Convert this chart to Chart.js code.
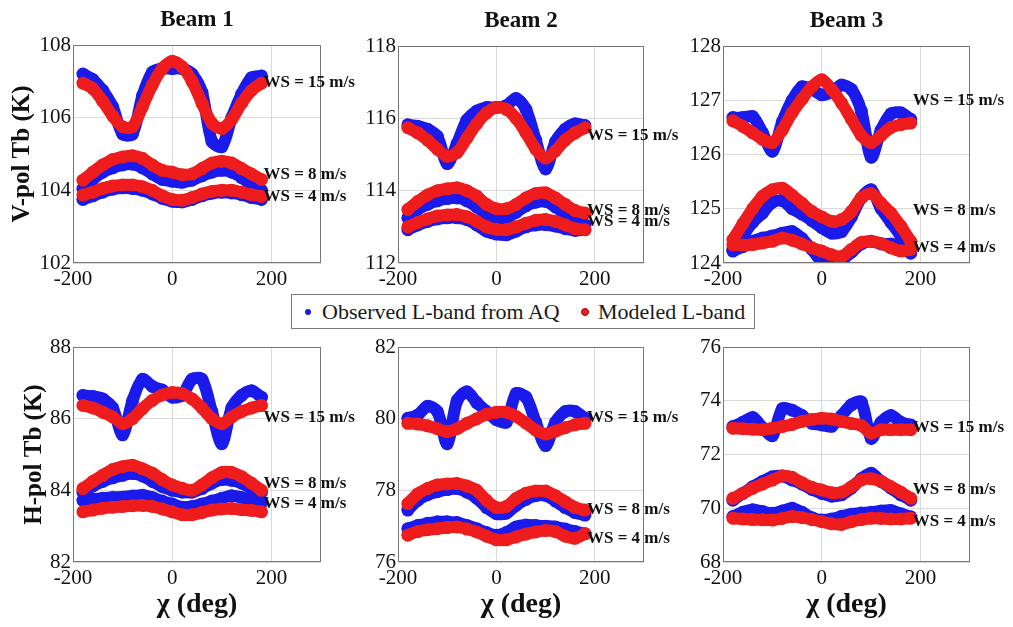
<!DOCTYPE html>
<html>
<head>
<meta charset="utf-8">
<script src="https://cdn.jsdelivr.net/npm/chart.js@4.4.0/dist/chart.umd.min.js"></script>
<style>
  body { margin: 0; background: #fff; width: 1013px; height: 627px; position: relative; overflow: hidden; font-family: "Liberation Serif", serif; }
  canvas { position: absolute; left: 0; top: 0; pointer-events: none; }
  #legend { position: absolute; left: 291px; top: 294px; width: 462px; height: 33px; border: 1px solid #7a7a7a; background: #fff; z-index: 5; color: #1a1a1a; font-size: 22px; }
  #legend span { position: absolute; top: 50%; transform: translateY(-50%); white-space: nowrap; }
  #legend .dot { width: 6px; height: 6px; border-radius: 50%; }
</style>
</head>
<body>
<div id="legend">
  <span class="dot" style="left:13px;background:#1a1aeb"></span>
  <span style="left:30px">Observed L-band from AQ</span>
  <span class="dot" style="left:289px;background:#ee1c1c;border:1px solid #a00"></span>
  <span style="left:306px">Modeled L-band</span>
</div>
<script>
// azimuth angle chi (deg)
const CHI = [-180, -160, -140, -120, -100, -80, -60, -40, -20, 0, 20, 40, 60, 80, 100, 120, 140, 160, 180];
const X_TICKS = [-200, 0, 200];
const BEAMS = ['Beam 1', 'Beam 2', 'Beam 3'];
const WS_LABELS = ['WS = 15 m/s', 'WS = 8 m/s', 'WS = 4 m/s'];

// V-pol, beam 1
const V1_YTICKS = [102, 104, 106, 108];
const V1_OBS_15 = [107.2, 107.05, 106.75, 106.3, 105.55, 105.55, 106.6, 107.25, 107.35, 107.35, 107.35, 107.2, 106.7, 105.35, 105.2, 106.0, 106.65, 107.1, 107.15];
const V1_MOD_15 = [106.95, 106.8, 106.45, 106.05, 105.75, 105.75, 106.3, 106.9, 107.35, 107.55, 107.4, 107.0, 106.4, 105.85, 105.7, 105.95, 106.4, 106.75, 106.95];
const V1_OBS_8 = [104.05, 104.3, 104.5, 104.62, 104.7, 104.72, 104.62, 104.45, 104.3, 104.25, 104.22, 104.28, 104.4, 104.5, 104.55, 104.5, 104.35, 104.15, 104.0];
const V1_MOD_8 = [104.28, 104.5, 104.7, 104.85, 104.92, 104.95, 104.88, 104.7, 104.55, 104.5, 104.43, 104.45, 104.6, 104.75, 104.8, 104.75, 104.6, 104.45, 104.3];
const V1_OBS_4 = [103.75, 103.85, 103.95, 104.03, 104.07, 104.05, 104.0, 103.9, 103.78, 103.7, 103.68, 103.75, 103.85, 103.92, 103.95, 103.93, 103.88, 103.8, 103.75];
const V1_MOD_4 = [103.87, 103.95, 104.05, 104.12, 104.15, 104.15, 104.1, 104.0, 103.85, 103.75, 103.73, 103.8, 103.9, 103.97, 104.0, 104.0, 103.95, 103.88, 103.83];
const V1_LABEL_AT = [106.96, 104.43, 103.82];

// V-pol, beam 2
const V2_YTICKS = [112, 114, 116, 118];
const V2_OBS_15 = [115.82, 115.78, 115.7, 115.5, 114.75, 115.3, 115.95, 116.2, 116.3, 116.3, 116.35, 116.55, 116.25, 115.4, 114.6, 115.35, 115.7, 115.85, 115.8];
const V2_MOD_15 = [115.74, 115.6, 115.4, 115.15, 114.95, 115.05, 115.45, 115.85, 116.15, 116.3, 116.25, 116.0, 115.6, 115.15, 114.9, 115.1, 115.4, 115.6, 115.74];
const V2_OBS_8 = [113.25, 113.48, 113.62, 113.72, 113.78, 113.8, 113.72, 113.55, 113.35, 113.25, 113.25, 113.4, 113.58, 113.68, 113.7, 113.55, 113.35, 113.15, 113.06];
const V2_MOD_8 = [113.48, 113.7, 113.88, 114.0, 114.05, 114.08, 114.0, 113.85, 113.62, 113.5, 113.5, 113.62, 113.8, 113.92, 113.94, 113.8, 113.62, 113.45, 113.38];
const V2_OBS_4 = [112.92, 113.05, 113.15, 113.22, 113.25, 113.25, 113.2, 113.05, 112.88, 112.8, 112.78, 112.88, 113.0, 113.05, 113.06, 113.02, 112.95, 112.9, 112.92];
const V2_MOD_4 = [113.0, 113.12, 113.22, 113.3, 113.33, 113.34, 113.28, 113.15, 113.0, 112.93, 112.92, 113.0, 113.1, 113.18, 113.2, 113.15, 113.05, 112.95, 112.92];
const V2_LABEL_AT = [115.53, 113.46, 113.15];

// V-pol, beam 3
const V3_YTICKS = [124, 125, 126, 127, 128];
const V3_OBS_15 = [126.68, 126.68, 126.7, 126.4, 126.06, 126.6, 127.0, 127.25, 127.2, 127.1, 127.15, 127.28, 127.2, 126.8, 125.95, 126.45, 126.75, 126.77, 126.65];
const V3_MOD_15 = [126.62, 126.52, 126.4, 126.28, 126.22, 126.45, 126.77, 127.02, 127.25, 127.38, 127.2, 126.95, 126.65, 126.35, 126.22, 126.35, 126.5, 126.55, 126.58];
const V3_OBS_8 = [124.25, 124.5, 124.75, 124.92, 125.12, 125.15, 125.0, 124.9, 124.78, 124.65, 124.55, 124.58, 124.85, 125.2, 125.35, 125.0, 124.75, 124.5, 124.3];
const V3_MOD_8 = [124.43, 124.72, 125.0, 125.23, 125.35, 125.38, 125.25, 125.1, 124.95, 124.85, 124.77, 124.8, 124.95, 125.2, 125.28, 125.1, 124.92, 124.68, 124.4];
const V3_OBS_4 = [124.22, 124.3, 124.4, 124.46, 124.5, 124.55, 124.58, 124.45, 124.25, 124.03, 124.0, 124.05, 124.2, 124.35, 124.4, 124.35, 124.35, 124.3, 124.18];
const V3_MOD_4 = [124.34, 124.33, 124.34, 124.37, 124.4, 124.46, 124.42, 124.35, 124.28, 124.22, 124.15, 124.12, 124.25, 124.38, 124.4, 124.36, 124.28, 124.22, 124.25];
const V3_LABEL_AT = [127.0, 124.96, 124.28];

// H-pol, beam 1
const H1_YTICKS = [82, 84, 86, 88];
const H1_OBS_15 = [86.65, 86.62, 86.55, 86.3, 85.55, 86.5, 87.1, 86.9, 86.8, 86.6, 86.65, 87.1, 87.1, 86.2, 85.3, 86.3, 86.65, 86.78, 86.6];
const H1_MOD_15 = [86.37, 86.3, 86.18, 86.05, 85.86, 86.0, 86.28, 86.51, 86.66, 86.73, 86.7, 86.55, 86.3, 86.0, 85.86, 86.05, 86.2, 86.3, 86.37];
const H1_OBS_8 = [83.95, 84.12, 84.25, 84.35, 84.42, 84.47, 84.4, 84.25, 84.1, 84.0, 83.95, 83.95, 84.05, 84.2, 84.3, 84.28, 84.2, 84.05, 83.95];
const H1_MOD_8 = [84.05, 84.25, 84.42, 84.58, 84.66, 84.7, 84.6, 84.48, 84.3, 84.15, 84.06, 84.0, 84.15, 84.35, 84.5, 84.5, 84.38, 84.2, 84.0];
const H1_OBS_4 = [83.72, 83.75, 83.78, 83.8, 83.81, 83.84, 83.86, 83.8, 83.7, 83.62, 83.53, 83.55, 83.62, 83.7, 83.78, 83.85, 83.8, 83.7, 83.65];
const H1_MOD_4 = [83.4, 83.45, 83.5, 83.53, 83.55, 83.57, 83.58, 83.55, 83.48, 83.4, 83.32, 83.32, 83.38, 83.45, 83.48, 83.49, 83.46, 83.44, 83.4];
const H1_LABEL_AT = [86.02, 84.2, 83.64];

// H-pol, beam 2
const H2_YTICKS = [76, 78, 80, 82];
const H2_OBS_15 = [80.01, 80.1, 80.35, 80.2, 79.3, 80.5, 80.75, 80.45, 80.2, 79.97, 79.9, 80.7, 80.6, 79.9, 79.25, 79.9, 80.2, 80.2, 80.01];
const H2_MOD_15 = [79.87, 79.85, 79.8, 79.72, 79.64, 79.72, 79.87, 80.0, 80.12, 80.18, 80.18, 80.06, 79.88, 79.68, 79.57, 79.65, 79.75, 79.83, 79.87];
const H2_OBS_8 = [77.45, 77.72, 77.88, 77.96, 78.02, 78.05, 77.95, 77.78, 77.52, 77.35, 77.36, 77.58, 77.75, 77.85, 77.86, 77.7, 77.52, 77.38, 77.31];
const H2_MOD_8 = [77.63, 77.9, 78.05, 78.15, 78.18, 78.19, 78.12, 78.0, 77.72, 77.52, 77.55, 77.77, 77.92, 77.98, 77.98, 77.85, 77.68, 77.52, 77.45];
const H2_OBS_4 = [76.93, 77.02, 77.08, 77.12, 77.12, 77.1, 77.02, 76.93, 76.82, 76.75, 76.82, 76.98, 77.03, 77.02, 77.0, 76.98, 76.92, 76.85, 76.79];
const H2_MOD_4 = [76.75, 76.85, 76.9, 76.93, 76.96, 76.98, 76.92, 76.84, 76.72, 76.62, 76.62, 76.7, 76.78, 76.84, 76.88, 76.85, 76.72, 76.66, 76.79];
const H2_LABEL_AT = [80.02, 77.45, 76.66];

// H-pol, beam 3
const H3_YTICKS = [68, 70, 72, 74, 76];
const H3_OBS_15 = [73.04, 73.2, 73.38, 73.0, 72.7, 73.7, 73.65, 73.45, 73.16, 73.1, 73.05, 73.45, 73.85, 73.95, 72.6, 73.2, 73.45, 73.2, 73.1];
const H3_MOD_15 = [72.98, 72.96, 72.94, 72.92, 72.98, 73.04, 73.12, 73.23, 73.3, 73.35, 73.32, 73.23, 73.15, 73.08, 72.79, 72.92, 72.92, 72.92, 72.92];
const H3_OBS_8 = [70.3, 70.55, 70.8, 71.0, 71.17, 71.2, 71.05, 70.9, 70.7, 70.55, 70.45, 70.5, 70.75, 71.1, 71.3, 71.0, 70.75, 70.5, 70.3];
const H3_MOD_8 = [70.37, 70.55, 70.74, 70.9, 71.05, 71.2, 71.15, 70.95, 70.78, 70.68, 70.58, 70.6, 70.8, 71.05, 71.1, 71.0, 70.8, 70.6, 70.37];
const H3_OBS_4 = [69.69, 69.85, 69.94, 69.88, 69.81, 69.9, 70.0, 69.85, 69.65, 69.56, 69.6, 69.7, 69.78, 69.82, 69.85, 69.9, 69.92, 69.8, 69.68];
const H3_MOD_4 = [69.63, 69.6, 69.58, 69.57, 69.56, 69.62, 69.69, 69.65, 69.58, 69.5, 69.42, 69.4, 69.5, 69.58, 69.63, 69.62, 69.6, 69.6, 69.63];
const H3_LABEL_AT = [72.99, 70.68, 69.49];

const BLUE = '#1a1aeb';
const RED = '#ee1c1c';
const FAMILY = '"Liberation Serif", "Times New Roman", serif';
const TEXT = '#111';
const W = 1013, H = 627;
const Y_W = 70;

const panels = [
  { left: 73, top: 45, right: 321, bottom: 263, title: BEAMS[0], yTitle: 'V-pol Tb (K)', yPad: 5, yTicks: V1_YTICKS,
    obs: [V1_OBS_15, V1_OBS_8, V1_OBS_4], mod: [V1_MOD_15, V1_MOD_8, V1_MOD_4], labelAt: V1_LABEL_AT },
  { left: 398, top: 46, right: 644, bottom: 263, title: BEAMS[1], yTicks: V2_YTICKS,
    obs: [V2_OBS_15, V2_OBS_8, V2_OBS_4], mod: [V2_MOD_15, V2_MOD_8, V2_MOD_4], labelAt: V2_LABEL_AT },
  { left: 723, top: 46, right: 970, bottom: 263, title: BEAMS[2], yTicks: V3_YTICKS,
    obs: [V3_OBS_15, V3_OBS_8, V3_OBS_4], mod: [V3_MOD_15, V3_MOD_8, V3_MOD_4], labelAt: V3_LABEL_AT },
  { left: 73, top: 347, right: 321, bottom: 562, xTitle: true, yTitle: 'H-pol Tb (K)', yPad: 17, yTicks: H1_YTICKS,
    obs: [H1_OBS_15, H1_OBS_8, H1_OBS_4], mod: [H1_MOD_15, H1_MOD_8, H1_MOD_4], labelAt: H1_LABEL_AT },
  { left: 398, top: 347, right: 644, bottom: 562, xTitle: true, yTicks: H2_YTICKS,
    obs: [H2_OBS_15, H2_OBS_8, H2_OBS_4], mod: [H2_MOD_15, H2_MOD_8, H2_MOD_4], labelAt: H2_LABEL_AT },
  { left: 723, top: 347, right: 970, bottom: 562, xTitle: true, yTicks: H3_YTICKS,
    obs: [H3_OBS_15, H3_OBS_8, H3_OBS_4], mod: [H3_MOD_15, H3_MOD_8, H3_MOD_4], labelAt: H3_LABEL_AT }
];

function toPoints(ys) {
  return CHI.map((x, i) => ({ x: x, y: ys[i] }));
}

function band(ys, color, order) {
  return {
    data: toPoints(ys),
    showLine: true,
    borderColor: color,
    backgroundColor: color,
    borderWidth: 12,
    borderCapStyle: 'round',
    borderJoinStyle: 'round',
    tension: 0.3,
    pointRadius: 6.5,
    pointBorderWidth: 0,
    order: order
  };
}

// frame box, beam title and wind speed labels
const panelDeco = {
  id: 'panelDeco',
  afterDatasetsDraw(chart, args, opts) {
    const { ctx, chartArea: a, scales } = chart;
    ctx.save();
    ctx.strokeStyle = '#777';
    ctx.lineWidth = 1;
    ctx.strokeRect(a.left + 0.5, a.top + 0.5, a.right - a.left - 1, a.bottom - a.top - 1);
    ctx.fillStyle = TEXT;
    ctx.textBaseline = 'middle';
    if (opts.title) {
      ctx.font = 'bold 23px ' + FAMILY;
      ctx.textAlign = 'center';
      ctx.fillText(opts.title, (a.left + a.right) / 2, a.top - 25);
    }
    ctx.font = 'bold 17px ' + FAMILY;
    ctx.textAlign = 'left';
    const x = scales.x.getPixelForValue(CHI[CHI.length - 1]) + 2;
    opts.labelAt.forEach((v, i) => {
      ctx.fillText(WS_LABELS[i], x, scales.y.getPixelForValue(v));
    });
    ctx.restore();
  }
};

panels.forEach(p => {
  const canvas = document.createElement('canvas');
  canvas.width = W;
  canvas.height = H;
  document.body.appendChild(canvas);

  const xH = p.xTitle ? 60 : 30;
  const datasets = [];
  p.mod.forEach(ys => datasets.push(band(ys, RED, 0)));
  p.obs.forEach(ys => datasets.push(band(ys, BLUE, 1)));

  new Chart(canvas, {
    type: 'scatter',
    data: { datasets: datasets },
    plugins: [panelDeco],
    options: {
      responsive: false,
      animation: false,
      events: [],
      layout: {
        padding: { left: p.left - Y_W, top: p.top, right: W - p.right, bottom: H - p.bottom - xH }
      },
      plugins: {
        legend: { display: false },
        tooltip: { enabled: false },
        panelDeco: { title: p.title, labelAt: p.labelAt }
      },
      scales: {
        x: {
          type: 'linear',
          min: -200,
          max: 300,
          afterBuildTicks: s => { s.ticks = X_TICKS.map(v => ({ value: v })); },
          afterFit: s => { s.height = xH; },
          grid: { color: '#d9d9d9', drawTicks: false },
          border: { display: false },
          ticks: { padding: 4, color: TEXT, maxRotation: 0, autoSkip: false, font: { family: FAMILY, size: 21 } },
          title: {
            display: !!p.xTitle,
            text: 'χ (deg)',
            color: TEXT,
            padding: { top: 0, bottom: 0 },
            font: { family: FAMILY, size: 28, weight: 'bold' }
          }
        },
        y: {
          type: 'linear',
          min: p.yTicks[0],
          max: p.yTicks[p.yTicks.length - 1],
          afterBuildTicks: s => { s.ticks = p.yTicks.map(v => ({ value: v })); },
          afterFit: s => { s.width = Y_W; },
          grid: { color: '#d9d9d9', drawTicks: false },
          border: { display: false },
          ticks: { padding: 2, color: TEXT, autoSkip: false, font: { family: FAMILY, size: 21 } },
          title: {
            display: !!p.yTitle,
            text: p.yTitle || '',
            color: TEXT,
            padding: { top: p.yPad || 0, bottom: 0 },
            font: { family: FAMILY, size: 25, weight: 'bold' }
          }
        }
      }
    }
  });
});
</script>
</body>
</html>
